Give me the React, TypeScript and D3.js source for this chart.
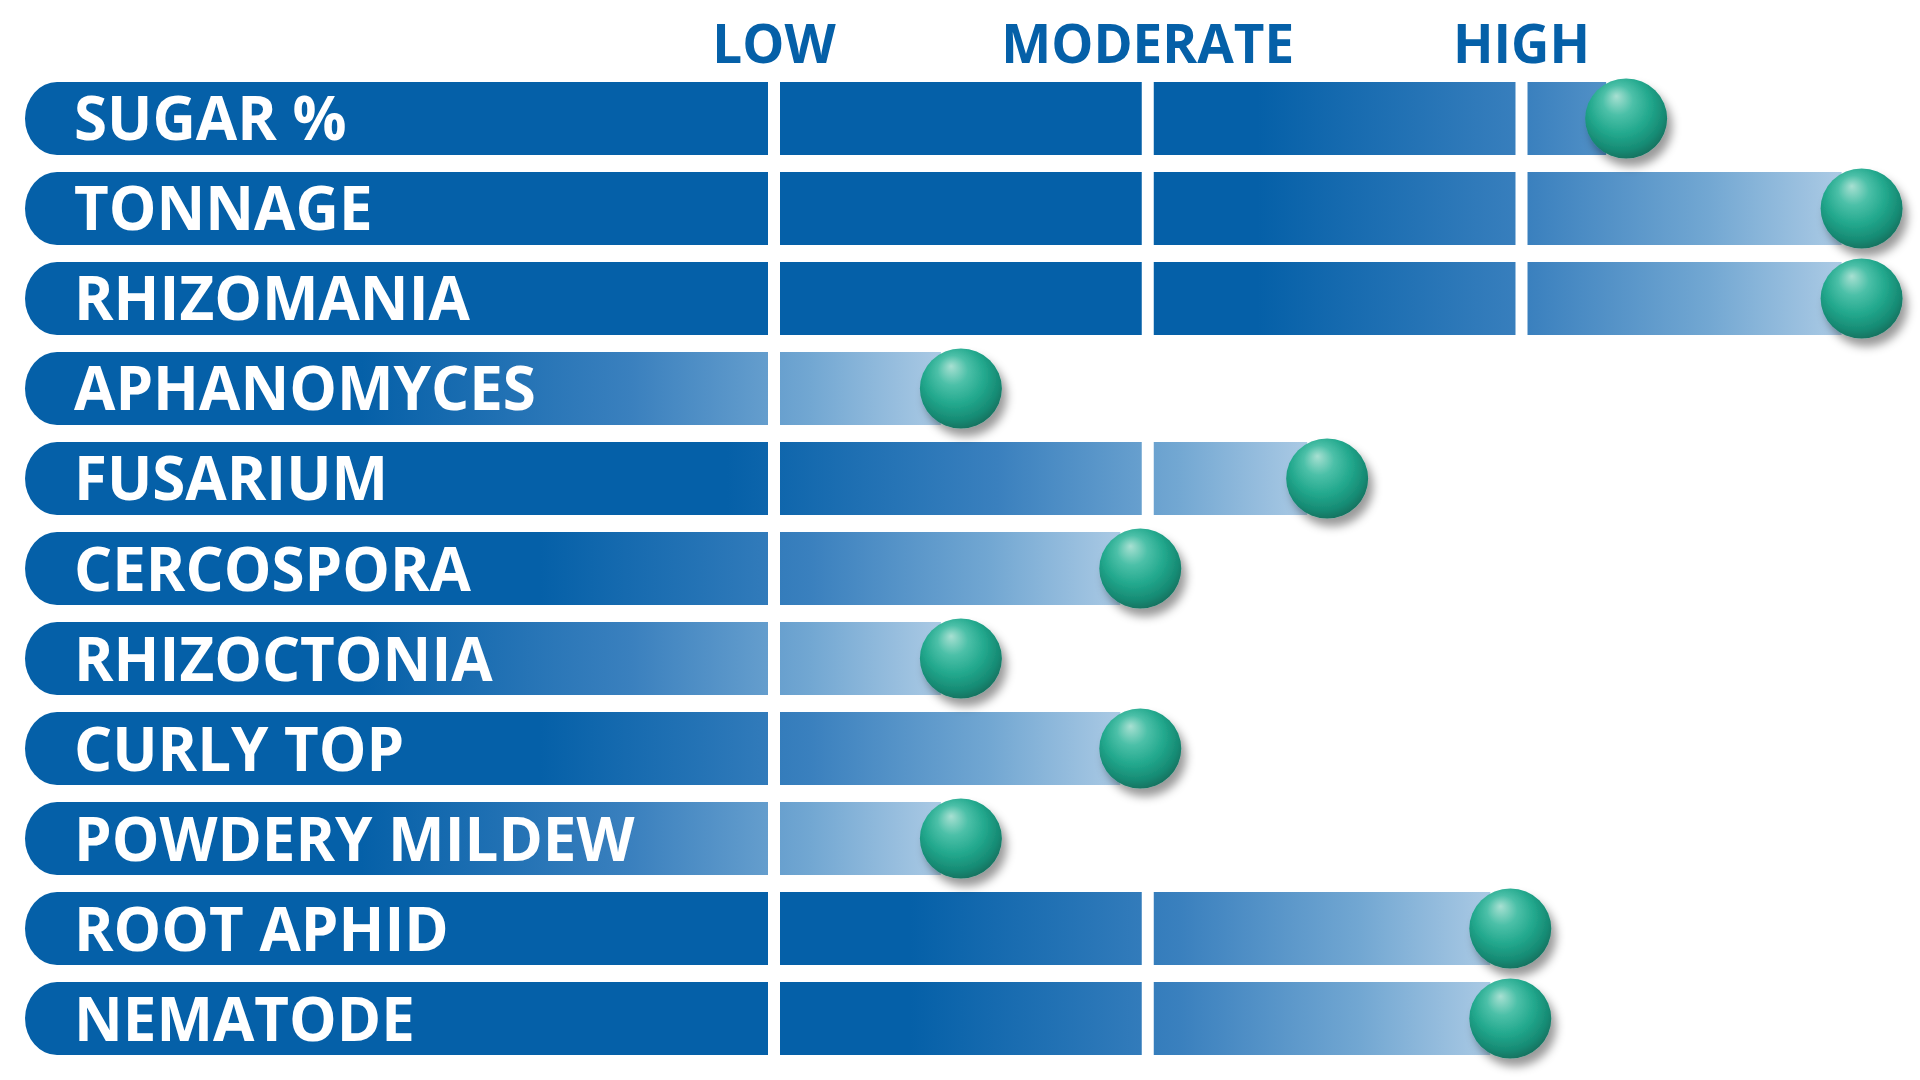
import React from 'react';
import * as d3 from 'd3';

const traits = [
  'SUGAR %',
  'TONNAGE',
  'RHIZOMANIA',
  'APHANOMYCES',
  'FUSARIUM',
  'CERCOSPORA',
  'RHIZOCTONIA',
  'CURLY TOP',
  'POWDERY MILDEW',
  'ROOT APHID',
  'NEMATODE'
];

// rating position, 1 = low, 2 = moderate, 3 = high
const ratings = [3.28, 3.91, 3.91, 1.5, 2.48, 1.98, 1.5, 1.98, 1.5, 2.97, 2.97];

const levels = ['LOW', 'MODERATE', 'HIGH'];
const levelValues = [1, 2, 3];

const W = 1920;
const H = 1080;
const BLUE = '#0560a8';

function App() {
  const x = d3.scaleLinear().domain([1, 3]).range([774, 1521.5]);
  const y = d3.scaleBand<string>()
    .domain(traits)
    .range([73.5, 1063.5])
    .paddingInner(0.189)
    .paddingOuter(0.094);
  const bw = y.bandwidth();
  const x0 = 25;
  const rx = 32;
  const gapW = 12;
  const fadeLen = 600;

  const rows = traits.map((t, i) => {
    const v = ratings[i];
    const top = y(t) as number;
    const cx = x(v);
    const end = cx - 20;
    // high ratings share the long fade to the right edge
    const fadeEnd = v > 3 ? x(3.9) : cx;
    return {t, i, v, top, cx, end, fadeEnd};
  });

  return (
    <div style={{position: 'fixed', left: 0, top: 0}}>
      <svg width={W} height={H} style={{display: 'block', background: '#fff'}}>
        <defs>
          {rows.map(r => (
            <linearGradient key={r.i} id={`fade${r.i}`} gradientUnits="userSpaceOnUse"
              x1={r.fadeEnd - fadeLen} x2={r.fadeEnd} y1={0} y2={0}>
              <stop offset="0" stopColor={BLUE}/>
              <stop offset="0.45" stopColor="#3a80be"/>
              <stop offset="0.75" stopColor="#72a7d2"/>
              <stop offset="1" stopColor="#b3cfe7"/>
            </linearGradient>
          ))}
          <radialGradient id="bead" cx="0.45" cy="0.4" r="0.62" fx="0.38" fy="0.22">
            <stop offset="0" stopColor="#a8e0d2"/>
            <stop offset="0.3" stopColor="#4cc0a8"/>
            <stop offset="0.6" stopColor="#22a88d"/>
            <stop offset="0.85" stopColor="#178b74"/>
            <stop offset="1" stopColor="#11705e"/>
          </radialGradient>
          <filter id="beadShadow" x="-40%" y="-40%" width="190%" height="190%">
            <feDropShadow dx="5" dy="8" stdDeviation="5" floodColor="#000" floodOpacity="0.4"/>
          </filter>
        </defs>

        {levels.map((l, i) => (
          <text key={l} x={x(levelValues[i])} y={63} textAnchor="middle"
            fill={BLUE} fontFamily="'Open Sans', sans-serif" fontWeight={700} fontSize={53}>
            {l}
          </text>
        ))}

        {rows.map(r => {
          const bottom = r.top + bw;
          const ry = bw / 2;
          const d = `M${x0 + rx},${r.top}H${r.end}V${bottom}H${x0 + rx}` +
            `A${rx},${ry} 0 0 1 ${x0 + rx},${r.top}Z`;
          return (
            <g key={r.t}>
              <path d={d} fill={`url(#fade${r.i})`}/>
              {levelValues.filter(lv => x(lv) < r.end).map(lv => (
                <rect key={lv} x={x(lv) - gapW / 2} y={r.top - 1} width={gapW} height={bw + 2} fill="#fff"/>
              ))}
              <text x={74} y={r.top + bw / 2 + 22} fill="#fff"
                fontFamily="'Open Sans', sans-serif" fontWeight={700} fontSize={60}>
                {r.t}
              </text>
            </g>
          );
        })}

        {rows.map(r => (
          <ellipse key={r.t} cx={r.cx} cy={r.top + bw / 2} rx={41} ry={40}
            fill="url(#bead)" filter="url(#beadShadow)"/>
        ))}
      </svg>
    </div>
  );
}

export default App;
